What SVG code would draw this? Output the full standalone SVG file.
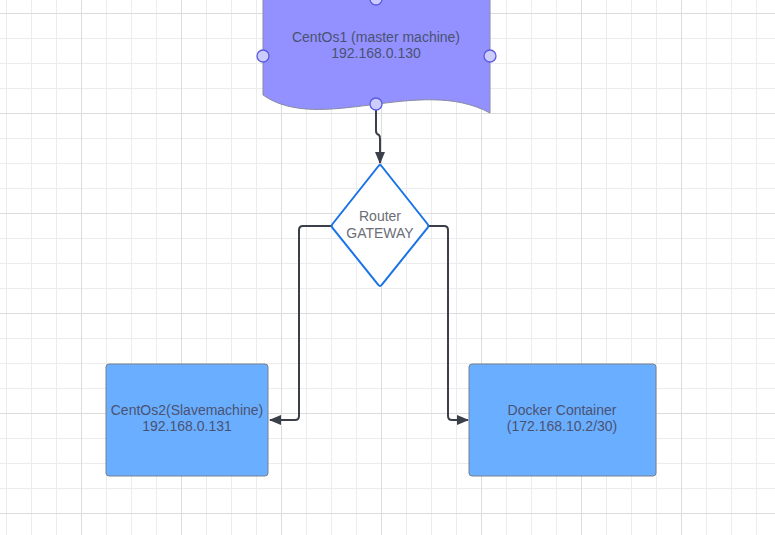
<svg xmlns="http://www.w3.org/2000/svg" width="775" height="535" viewBox="0 0 775 535">
  <defs>
    <pattern id="minor" patternUnits="userSpaceOnUse" x="6" y="13" width="25" height="25">
      <path d="M0.5,0 V25 M0,0.5 H25" fill="none" stroke="#ececec" stroke-width="1"/>
    </pattern>
    <pattern id="major" patternUnits="userSpaceOnUse" x="81" y="13" width="100" height="100">
      <path d="M0.5,0 V100 M0,0.5 H100" fill="none" stroke="#dcdcdc" stroke-width="1"/>
    </pattern>
    <marker id="arrow" viewBox="0 0 12 10" refX="11" refY="5" markerWidth="12" markerHeight="10" markerUnits="userSpaceOnUse" orient="auto">
      <path d="M0,0 L12,5 L0,10 Z" fill="#3a3f4a"/>
    </marker>
    <style>
      .lbl { font-family: "Liberation Sans", Arial, sans-serif; font-size: 14px; text-anchor: middle; }
      .dark { fill: #4a5272; }
      .gray { fill: #6b6e76; }
      .conn { fill: none; stroke: #3a3f4a; stroke-width: 2; stroke-linejoin: round; }
      .box { fill: #6aaeff; stroke: #76808e; stroke-width: 1; }
      .handle { fill: #ccccff; stroke: #5a5ae0; stroke-width: 1.3; }
    </style>
  </defs>
  <rect width="775" height="535" fill="#ffffff"/>
  <rect width="775" height="535" fill="url(#minor)"/>
  <rect width="775" height="535" fill="url(#major)"/>

  <g id="connectors">
    <path class="conn" d="M376,110 V131 Q376,134 379,135 Q380,136 380,139 V163" marker-end="url(#arrow)"/>
    <path class="conn" d="M331,226 H303 Q299,226 299,230 V416 Q299,420 295,420 H270" marker-end="url(#arrow)"/>
    <path class="conn" d="M429,226 H444 Q448,226 448,230 V416 Q448,420 452,420 H468" marker-end="url(#arrow)"/>
  </g>

  <g id="centos1">
    <path d="M263,-2 H490 V113 C420,75 320,135 263,95 Z" fill="#9391ff" stroke="#8a8aa0" stroke-width="1"/>
    <text class="lbl dark" x="376" y="42">CentOs1 (master machine)</text>
    <text class="lbl dark" x="376" y="58">192.168.0.130</text>
    <circle class="handle" cx="376" cy="-1" r="6"/>
    <circle class="handle" cx="263" cy="56" r="6"/>
    <circle class="handle" cx="490" cy="56" r="6"/>
    <circle class="handle" cx="376" cy="104" r="6"/>
  </g>

  <g id="router">
    <path d="M378.5,166 Q380,164 381.5,166 L427.5,224 Q429,226 427.5,228 L381.5,285 Q380,287 378.5,285 L332.5,228 Q331,226 332.5,224 Z" fill="#ffffff" stroke="#1a73e8" stroke-width="2"/>
    <text class="lbl gray" x="380" y="221">Router</text>
    <text class="lbl gray" x="380" y="238">GATEWAY</text>
  </g>

  <g id="centos2">
    <rect class="box" x="106" y="364" width="162" height="112" rx="3"/>
    <text class="lbl dark" x="187" y="415">CentOs2(Slavemachine)</text>
    <text class="lbl dark" x="187" y="431">192.168.0.131</text>
  </g>

  <g id="docker">
    <rect class="box" x="469" y="364" width="187" height="112" rx="3"/>
    <text class="lbl dark" x="562" y="415">Docker Container</text>
    <text class="lbl dark" x="562" y="431">(172.168.10.2/30)</text>
  </g>
</svg>
